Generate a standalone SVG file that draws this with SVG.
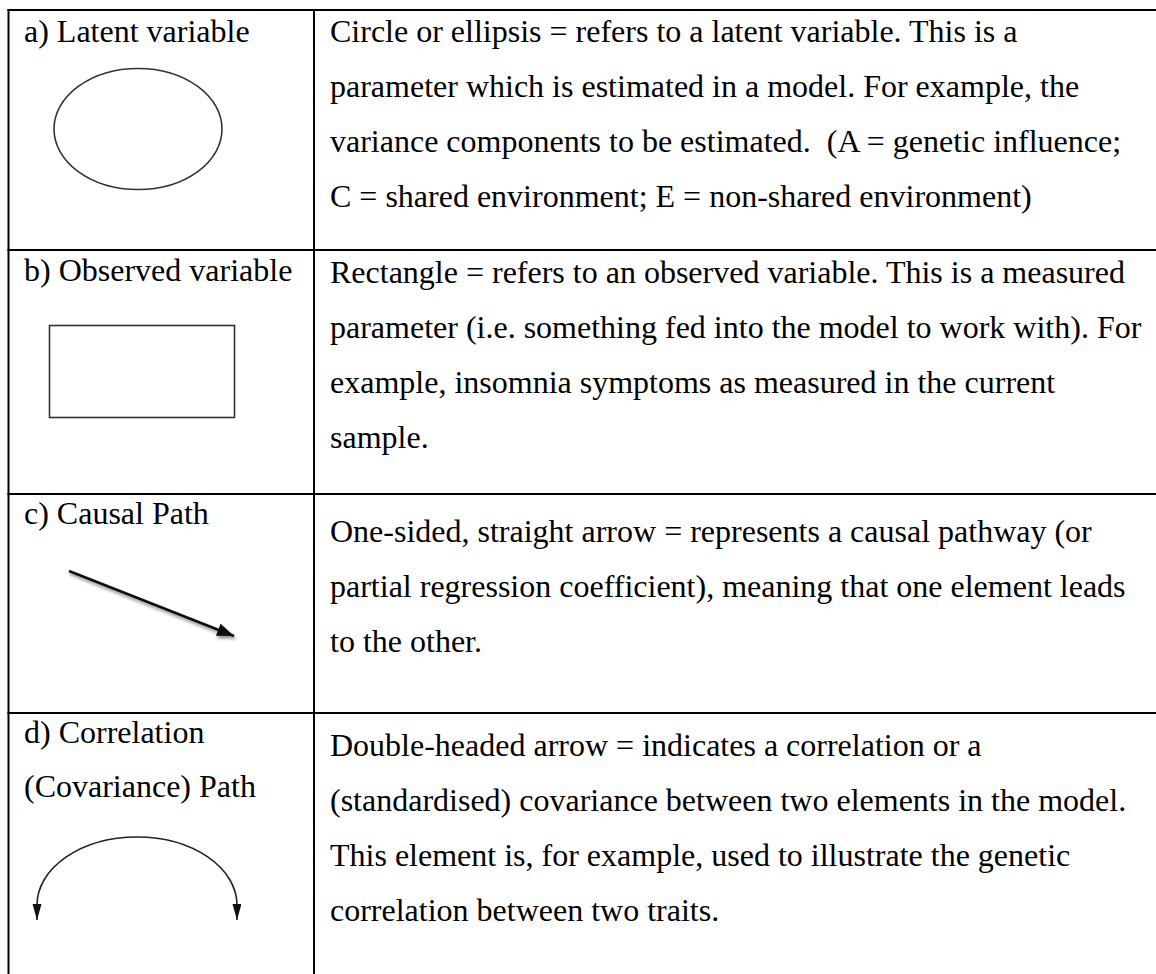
<svg xmlns="http://www.w3.org/2000/svg" width="1156" height="974" viewBox="0 0 1156 974">
  <style>
    .grid { stroke: #000; stroke-width: 2; fill: none; }
    .t { font-family: "Liberation Serif", "Times New Roman", serif; font-size: 32px; fill: #000; }
    .shape { fill: none; stroke: #333; stroke-width: 1.6; }
    .causal { stroke: #111; stroke-width: 2.6; fill: none; }
    .cov { stroke: #222; stroke-width: 1.6; fill: none; }
  </style>
  <defs>
    <marker id="headCausal" markerUnits="userSpaceOnUse" markerWidth="20" markerHeight="14" refX="17" refY="6.5" orient="auto">
      <path d="M0,0 L17,6.5 L0,13 z" fill="#111"/>
    </marker>
    <marker id="headCov" markerUnits="userSpaceOnUse" markerWidth="18" markerHeight="10" refX="16" refY="4.5" orient="auto-start-reverse">
      <path d="M0,0 L16,4.5 L0,9 z" fill="#111"/>
    </marker>
    <filter id="shadow" x="-20%" y="-50%" width="140%" height="200%">
      <feDropShadow dx="1" dy="2.5" stdDeviation="1.6" flood-color="#000" flood-opacity="0.45"/>
    </filter>
  </defs>

  <rect x="0" y="0" width="1156" height="974" fill="#fff"/>

  <g id="table-grid" class="grid">
    <line x1="7.5" y1="10" x2="1156" y2="10"/>
    <line x1="8.5" y1="9" x2="8.5" y2="974"/>
    <line x1="314" y1="10" x2="314" y2="974"/>
    <line x1="7.5" y1="250" x2="1156" y2="250"/>
    <line x1="7.5" y1="494" x2="1156" y2="494"/>
    <line x1="7.5" y1="713" x2="1156" y2="713"/>
  </g>

  <g id="row-a">
    <text class="t" x="24" y="42">a) Latent variable</text>
    <ellipse id="latent-ellipse" class="shape" cx="138" cy="129" rx="84" ry="60.5"/>
    <text class="t" x="330" y="42">Circle or ellipsis = refers to a latent variable. This is a</text>
    <text class="t" x="330" y="97">parameter which is estimated in a model. For example, the</text>
    <text class="t" x="330" y="152" xml:space="preserve">variance components to be estimated.  (A = genetic influence;</text>
    <text class="t" x="330" y="207">C = shared environment; E = non-shared environment)</text>
  </g>

  <g id="row-b">
    <text class="t" x="24" y="281">b) Observed variable</text>
    <rect id="observed-rect" class="shape" x="49.5" y="325.5" width="185" height="92"/>
    <text class="t" x="330" y="283">Rectangle = refers to an observed variable. This is a measured</text>
    <text class="t" x="330" y="338">parameter (i.e. something fed into the model to work with). For</text>
    <text class="t" x="330" y="393">example, insomnia symptoms as measured in the current</text>
    <text class="t" x="330" y="448">sample.</text>
  </g>

  <g id="row-c">
    <text class="t" x="24" y="524">c) Causal Path</text>
    <text class="t" x="330" y="542">One-sided, straight arrow = represents a causal pathway (or</text>
    <text class="t" x="330" y="597">partial regression coefficient), meaning that one element leads</text>
    <text class="t" x="330" y="652">to the other.</text>
  </g>

  <g id="row-d">
    <text class="t" x="24" y="743">d) Correlation</text>
    <text class="t" x="24" y="797">(Covariance) Path</text>
    <text class="t" x="330" y="756">Double-headed arrow = indicates a correlation or a</text>
    <text class="t" x="330" y="811">(standardised) covariance between two elements in the model.</text>
    <text class="t" x="330" y="866">This element is, for example, used to illustrate the genetic</text>
    <text class="t" x="330" y="921">correlation between two traits.</text>
  </g>

  <g id="connectors">
    <path id="causal-arrow" class="causal" d="M69,571 L234,636" marker-end="url(#headCausal)" filter="url(#shadow)"/>
    <path id="covariance-arrow" class="cov" d="M37,920 L37,905 A100,68 0 0 1 237,905 L237,920" marker-start="url(#headCov)" marker-end="url(#headCov)"/>
  </g>
</svg>
